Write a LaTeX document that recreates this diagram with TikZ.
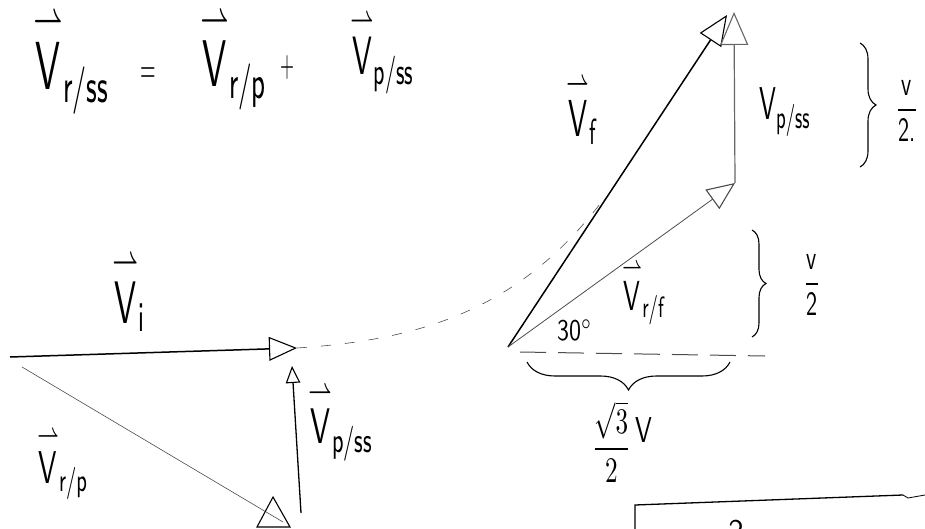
\documentclass[tikz,border=0pt]{standalone}
\usepackage{amsmath}
\usepackage{graphicx}
\usetikzlibrary{arrows.meta,decorations.pathreplacing}
\renewcommand{\familydefault}{\sfdefault}
\newcommand\hw[3]{\scalebox{#1}[#2]{#3}}
\newcommand\hvec[1]{\overset{\rightharpoonup}{\smash[t]{\text{#1}}\rule{0pt}{0.63em}}}
\begin{document}
\begin{tikzpicture}[x=1pt,y=-1pt,
  lab/.style={inner sep=0pt, anchor=base west},
  thick line/.style={line width=1.5pt, black},
  thin line/.style={line width=0.6pt, black!70},
  tri/.style={-{Triangle[open, length=#1, width=0.85*#1, line width=1.1pt]}},
  hbrace/.style={decorate, decoration={brace, amplitude=#1}, line width=1.1pt}]
\useasboundingbox (0,0) rectangle (925,529);

% ---- equation ----
\node[lab] (eqa) at (33,90) {\hw{3.74}{6.8}{$\hvec{V}_{\text{r/ss}}$}};
\node[inner sep=0pt] (eqeq) at (148,75) {\hw{2.0}{4.0}{=}};
\node[lab] (eqb) at (200,87) {\hw{3.63}{6.6}{$\hvec{V}_{\text{r/p}}$}};
\node[inner sep=0pt] (eqplus) at (287,68) {\hw{1.8}{3.6}{+}};
\node[lab] (eqc) at (350,75) {\hw{2.97}{5.4}{$\hvec{V}_{\text{p/ss}}$}};

% ---- left triangle ----
\coordinate (A) at (10,357);
\coordinate (B) at (297,348);
\coordinate (C) at (283,522);
\coordinate (C2) at (301,513);
\coordinate (B2) at (292,366);
\draw[thick line, tri=28pt] (A) -- (B);
\draw[thin line] (22,367) -- (C);
\draw[line width=1.1pt] (257,527) -- (273,497) -- (290,527) -- cycle;
\draw[line width=1.3pt, tri=17pt] (C2) -- (B2);

\node[lab] (Vi) at (112,323) {\hw{3.3}{6.0}{$\hvec{V}_{\text{i}}$}};
\node[lab] (Vrp) at (37,483) {\hw{2.76}{4.6}{$\hvec{V}_{\text{r/p}}$}};
\node[lab] (Vpss) at (308,443) {\hw{3.0}{5.0}{$\hvec{V}_{\text{p/ss}}$}};

% ---- dashed arc ----
\draw[thin line, dash pattern=on 10pt off 14pt] (B) .. controls (420,340) and (520,310) .. (603,200);

% ---- right triangle ----
\coordinate (O) at (508,347);
\coordinate (P) at (735,183);
\coordinate (Q) at (734,12);
\coordinate (F) at (727,15);
\draw[line width=1.5pt, tri=30pt] (O) -- (F);
\draw[thin line, line width=0.8pt, tri=28pt] (O) -- (P);
\draw[line width=1.2pt, black!60, tri=33pt] (P) -- (Q);
\draw[thin line, line width=1pt, dash pattern=on 26pt off 12pt] (520,352) -- (765,356);

\node[lab] (Vf) at (566,137) {\hw{2.86}{5.2}{$\hvec{V}_{\text{f}}$}};
\node[lab] (Vpss2) at (759,120) {\hw{2.53}{4.6}{V$_{\text{p/ss}}$}};
\node[lab] (Vrf) at (622,310) {\hw{2.52}{4.2}{$\hvec{V}_{\text{r/f}}$}};
\node[lab] (ang) at (557,340) {\hw{2.4}{3.0}{30$^\circ$}};

\draw[hbrace=16pt] (860,43) -- (860,167);
\node[inner sep=0pt] (h1) at (907,111) {\hw{2.21}{3.4}{$\dfrac{\text{v}}{\text{2.}}$}};
\draw[hbrace=14pt] (752,230) -- (752,337);
\node[inner sep=0pt] (h2) at (812,285) {\hw{2.21}{3.4}{$\dfrac{\text{v}}{\text{2}}$}};
\draw[hbrace=28pt] (730,362) -- (527,362);
\node[inner sep=0pt] (w) at (622,442) {\hw{2.52}{3.6}{$\dfrac{\sqrt{3}}{2}\,\raisebox{1.0ex}{V}$}};

% ---- bottom right fragment ----
\coordinate (R1) at (635,505);
\coordinate (R2) at (903,495);
\coordinate (R0) at (635,529);
\draw[line width=1.3pt] (R0) -- (R1) -- (R2);
\draw[line width=0.8pt] (R2) -- (908,498) -- (925,495);
\node[inner sep=0pt, anchor=north] (two) at (736,520) {\hw{3}{3}{2}};
\end{tikzpicture}
\end{document}
